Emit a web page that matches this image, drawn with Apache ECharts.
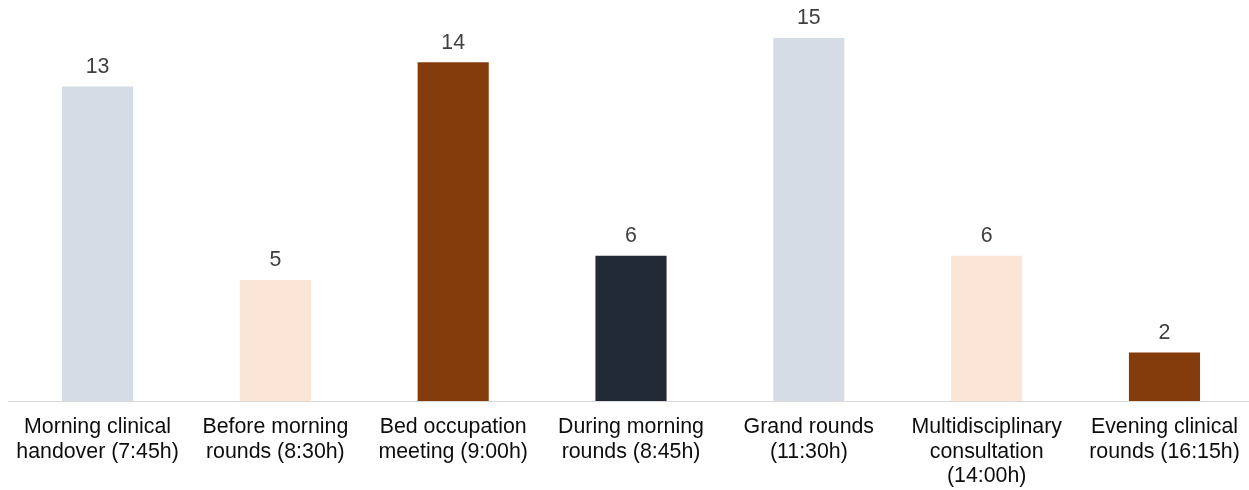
<!DOCTYPE html>
<html>
<head>
<meta charset="utf-8">
<script src="https://cdn.jsdelivr.net/npm/echarts@6/dist/echarts.min.js"></script>
<style>
  html, body { margin: 0; padding: 0; background: #fff; overflow: hidden; }
  #chart { width: 1254px; height: 490px; }
</style>
</head>
<body>
<div id="chart"></div>
<script>
// Meeting moments and the count recorded for each
const categories = [
  'Morning clinical\nhandover (7:45h)',
  'Before morning\nrounds (8:30h)',
  'Bed occupation\nmeeting (9:00h)',
  'During morning\nrounds (8:45h)',
  'Grand rounds\n(11:30h)',
  'Multidisciplinary\nconsultation\n(14:00h)',
  'Evening clinical\nrounds (16:15h)'
];
const counts = [13, 5, 14, 6, 15, 6, 2];
const barColors = ['#D6DCE5', '#FBE5D6', '#843C0C', '#222A35', '#D6DCE5', '#FBE5D6', '#843C0C'];

const chart = echarts.init(document.getElementById('chart'));
chart.setOption({
  animation: false,
  textStyle: { fontFamily: 'Liberation Sans, Arial, sans-serif' },
  grid: { left: 8.6, right: 0.6, top: 38, bottom: 89, containLabel: false },
  xAxis: {
    type: 'category',
    data: categories,
    axisLine: { lineStyle: { color: '#D9D9D9', width: 1 } },
    axisTick: { show: false },
    axisLabel: {
      interval: 0,
      margin: 14,
      fontSize: 21.33,
      lineHeight: 24.5,
      color: '#0D0D0D'
    }
  },
  yAxis: {
    type: 'value',
    min: 0,
    max: 15,
    show: false,
    splitLine: { show: false }
  },
  series: [{
    type: 'bar',
    barWidth: '40%',
    data: counts.map((v, i) => ({ value: v, itemStyle: { color: barColors[i] } })),
    label: {
      show: true,
      position: 'top',
      distance: 9,
      fontSize: 21.33,
      color: '#404040'
    }
  }]
});
</script>
</body>
</html>
